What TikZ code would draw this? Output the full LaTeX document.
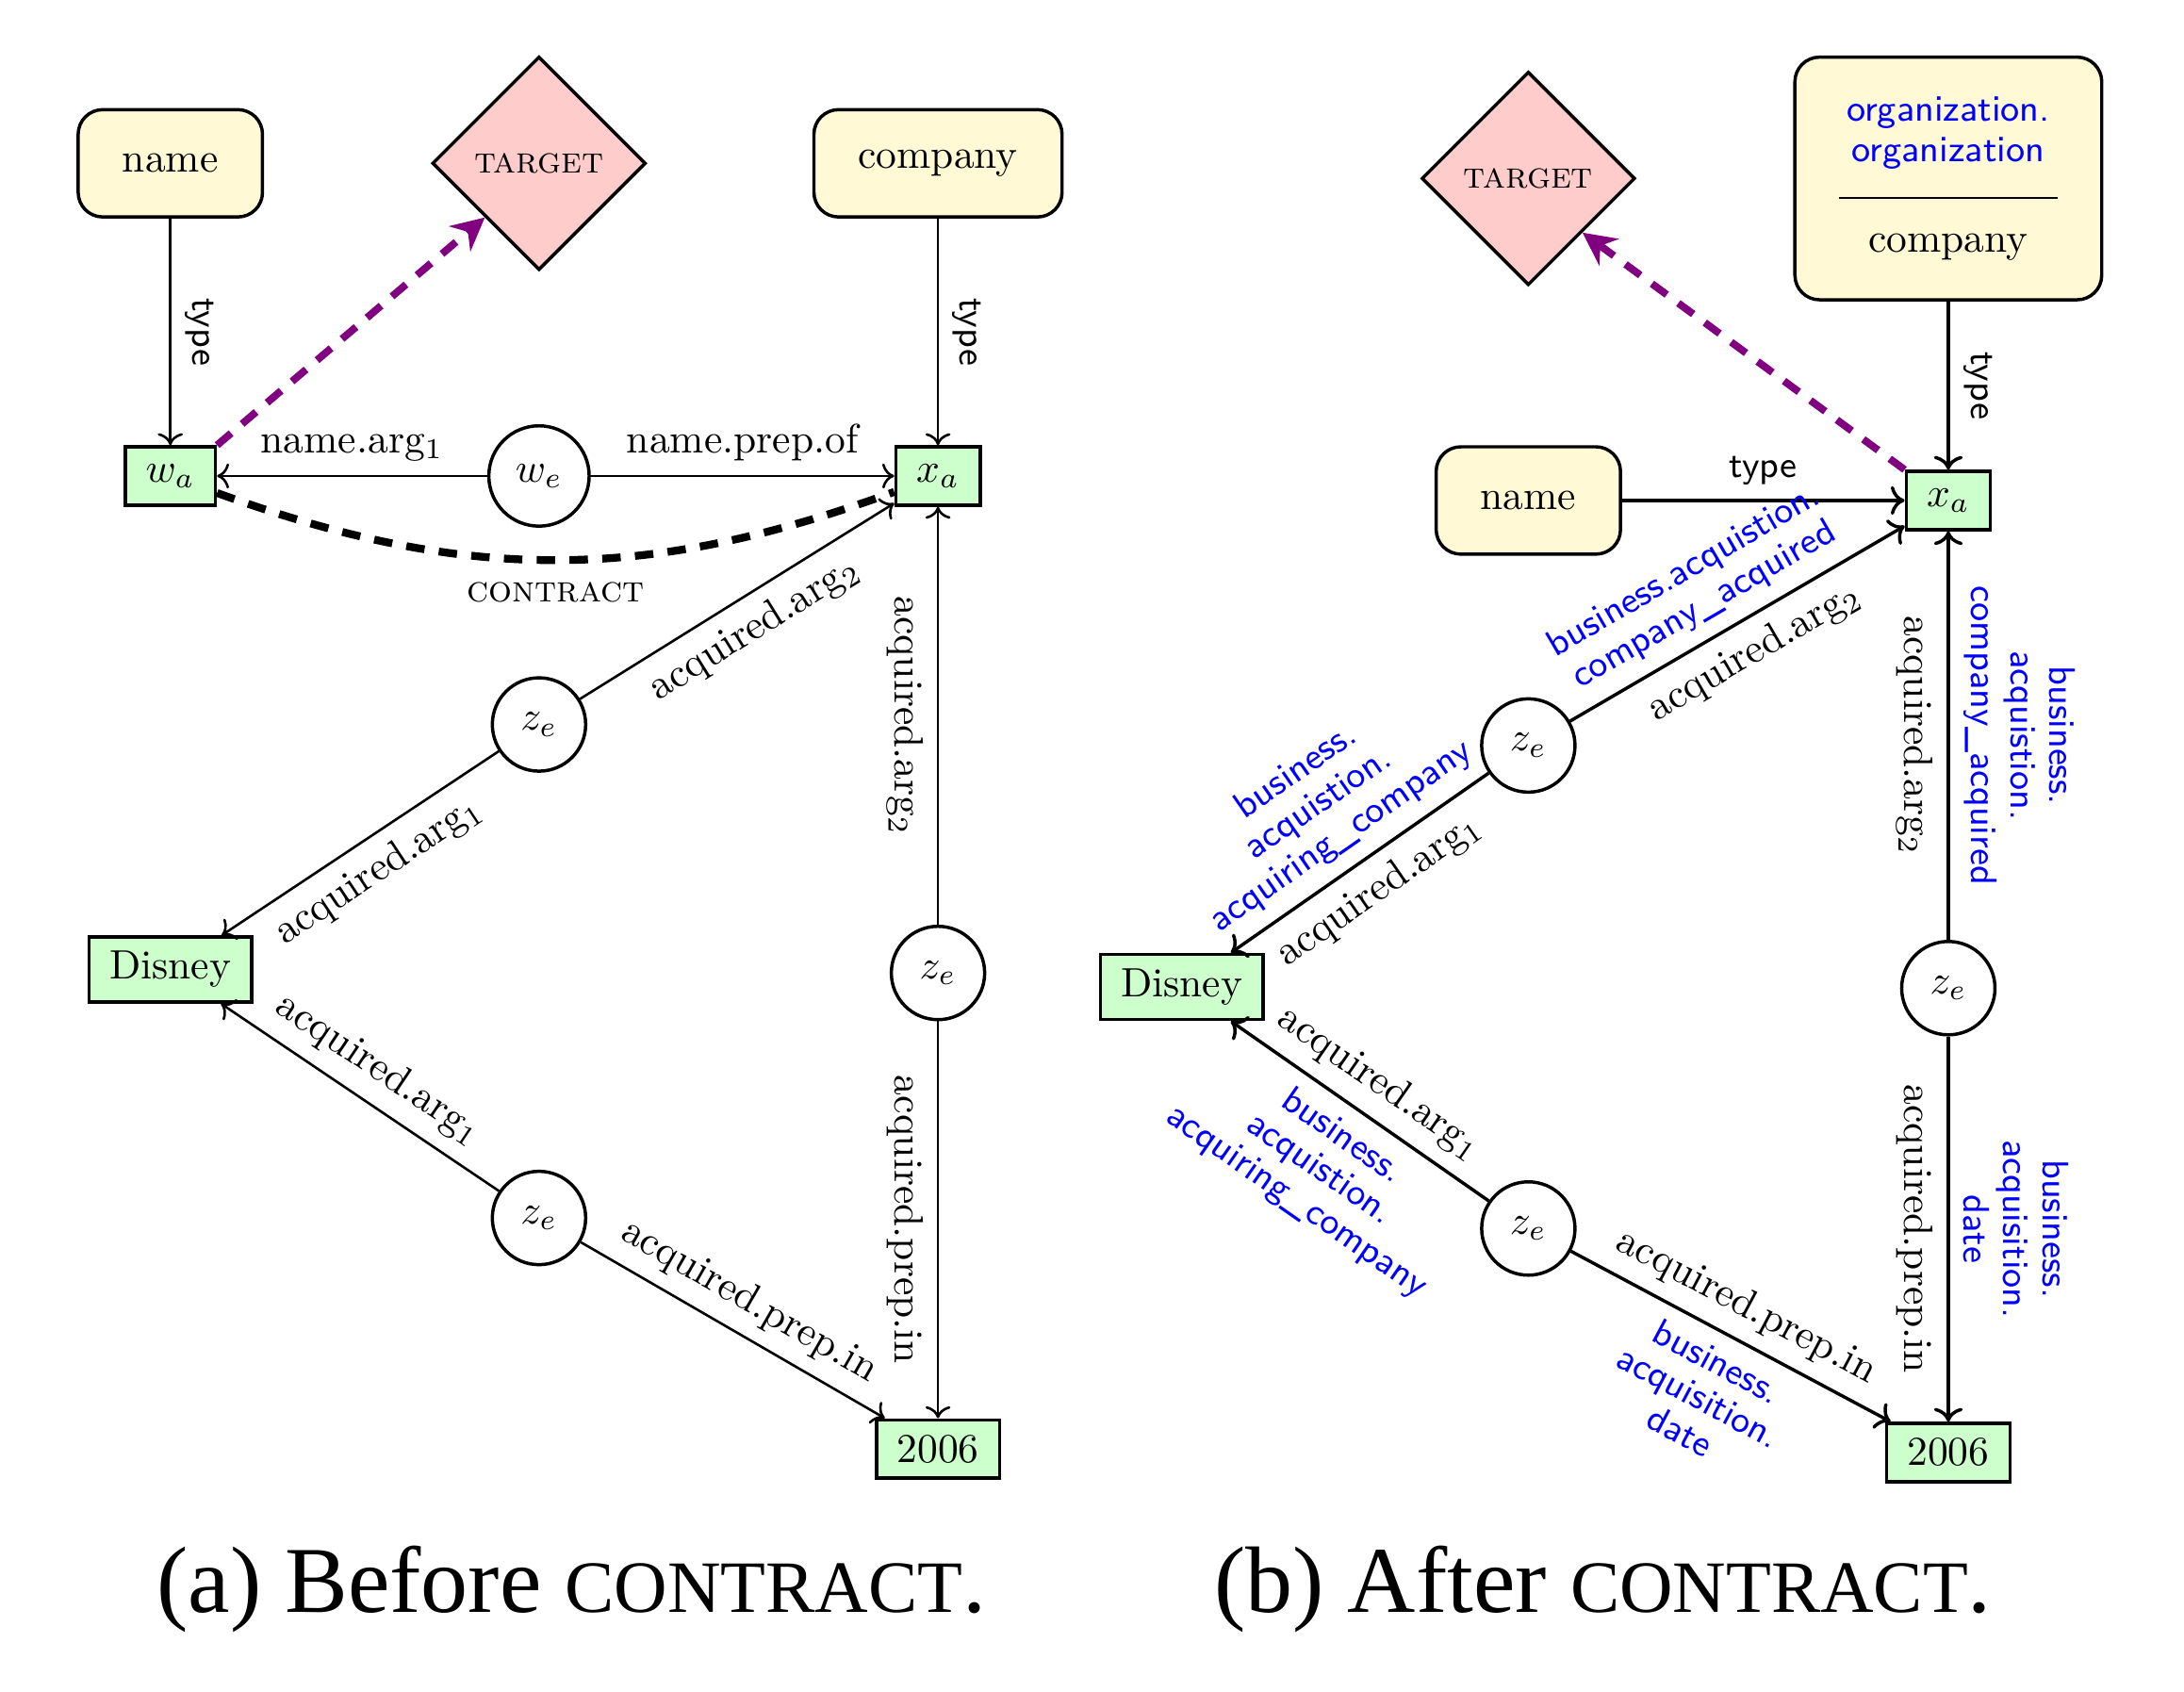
\documentclass[tikz,border=0pt]{standalone}
\usepackage{fontspec}
\newfontfamily\capfont{Liberation Serif}
\usetikzlibrary{shapes.geometric,arrows.meta}
\definecolor{typefill}{RGB}{255,249,214}
\definecolor{entfill}{RGB}{204,255,204}
\definecolor{tgtfill}{RGB}{255,204,204}
\newcommand{\bluesf}{\color{blue}\sffamily\fontsize{9}{9.6}\selectfont}

\begin{document}
\begin{tikzpicture}[
  entity/.style={shape=rectangle, draw, thick, fill=entfill, inner xsep=5pt, inner ysep=3.5pt, minimum height=0.5cm},
  event/.style={shape=circle, draw, thick, fill=white, minimum size=0.8cm, inner sep=0pt},
  typebox/.style={shape=rectangle, rounded corners=6pt, draw, thick, fill=typefill, inner xsep=0.38cm, minimum height=0.92cm},
  tgtnode/.style={shape=diamond, draw, thick, fill=tgtfill, minimum size=1.83cm, inner sep=0pt, font=\small\scshape},
  rel/.style={->, semithick},
  bluelab/.style={text=blue, font=\sffamily\fontsize{9}{9.6}\selectfont, align=center},
  typelab/.style={font=\small\sffamily},
  tgtarrow/.style={-{Stealth[length=8pt,width=8pt]}, violet, line width=1.8pt, dash pattern=on 4.5pt off 3.5pt},
  capnode/.style={font=\capfont\fontsize{23}{27}\selectfont}
]
\useasboundingbox (0,0) rectangle (18.72,14.5);

% (a) before contract
\path (1.46,13.10) node[typebox] (nameL) {name}
      (4.62,13.10) node[tgtnode] (tgtL) {target}
      (8.04,13.10) node[typebox] (compL) {company}
      (1.46,10.42) node[entity] (waL) {$w_a$}
      (4.62,10.42) node[event, minimum size=0.86cm] (weL) {$w_e$}
      (8.04,10.42) node[entity] (xaL) {$x_a$}
      (4.62,8.29) node[event] (zeaL) {$z_e$}
      (1.46,6.19) node[entity] (disL) {Disney}
      (8.04,6.16) node[event] (zebL) {$z_e$}
      (4.62,4.06) node[event] (zecL) {$z_e$}
      (8.04,2.08) node[entity] (yrL) {2006};

\draw[rel] (nameL) -- node[rotate=-90, anchor=south, typelab] {type} (waL);
\draw[rel] (compL) -- node[rotate=-90, anchor=south, typelab] {type} (xaL);
\draw[rel] (weL) -- node[above] {name.arg$_1$} (waL);
\draw[rel] (weL) -- node[above] {name.prep.of} (xaL);
\draw[line width=1.9pt, dash pattern=on 4.5pt off 3.5pt] (waL) to[bend right=20] node[below=1pt, font=\small\scshape] {contract} (xaL);
\draw[tgtarrow] (waL.north east) -- (tgtL.south west);
\draw[rel] (zeaL) -- node[sloped, below] {acquired.arg$_2$} (xaL);
\draw[rel] (zeaL) -- node[sloped, below] {acquired.arg$_1$} (disL);
\draw[rel] (zebL) -- node[rotate=-90, anchor=north] {acquired.arg$_2$} (xaL);
\draw[rel] (zebL) -- node[rotate=-90, anchor=north] {acquired.prep.in} (yrL);
\draw[rel] (zecL) -- node[sloped, above] {acquired.arg$_1$} (disL);
\draw[rel] (zecL) -- node[sloped, above] {acquired.prep.in} (yrL);

\node[capnode] (capL) at (4.90,0.88) {(a) Before {\fontsize{18}{22}\selectfont CONTRACT}.};

% (b) after contract
\path (13.10,12.97) node[tgtnode] (tgtR) {target}
      (16.70,12.97) node[typebox, minimum width=2.62cm, minimum height=2.08cm, align=center] (orgR)
        {{\bluesf organization.}\\[-2pt]{\bluesf organization}\\[-3pt]\rule{1.87cm}{0.5pt}\\[1pt]company}
      (13.10,10.21) node[typebox] (nameR) {name}
      (16.70,10.21) node[entity] (xaR) {$x_a$}
      (13.10,8.11) node[event] (zeaR) {$z_e$}
      (10.13,6.04) node[entity] (disR) {Disney}
      (16.70,6.03) node[event] (zebR) {$z_e$}
      (13.10,3.97) node[event] (zecR) {$z_e$}
      (16.70,2.05) node[entity] (yrR) {2006};

\draw[rel, thick] (orgR) -- node[rotate=-90, anchor=south, typelab] {type} (xaR);
\draw[rel, thick] (nameR) -- node[above, typelab] {type} (xaR);
\draw[tgtarrow] (xaR.north west) -- (tgtR.south east);
\draw[rel, thick] (zeaR) -- node[sloped, below] {acquired.arg$_2$}
  node[sloped, above, pos=0.45, bluelab] {business.acquistion.\\company\_acquired} (xaR);
\draw[rel, thick] (zeaR) -- node[sloped, below] {acquired.arg$_1$}
  node[sloped, above, bluelab] {business.\\acquistion.\\acquiring\_company} (disR);
\draw[rel, thick] (zebR) -- node[rotate=-90, anchor=north] {acquired.arg$_2$}
  node[rotate=-90, anchor=south, bluelab] {business.\\acquistion.\\company\_acquired} (xaR);
\draw[rel, thick] (zebR) -- node[rotate=-90, anchor=north] {acquired.prep.in}
  node[rotate=-90, anchor=south, bluelab] {business.\\acquisition.\\date} (yrR);
\draw[rel, thick] (zecR) -- node[sloped, above] {acquired.arg$_1$}
  node[sloped, below, bluelab] {business.\\acquistion.\\acquiring\_company} (disR);
\draw[rel, thick] (zecR) -- node[sloped, above] {acquired.prep.in}
  node[sloped, below, bluelab] {business.\\acquisition.\\date} (yrR);

\node[capnode] (capR) at (13.74,0.88) {(b) After {\fontsize{18}{22}\selectfont CONTRACT}.};
\end{tikzpicture}
\end{document}
